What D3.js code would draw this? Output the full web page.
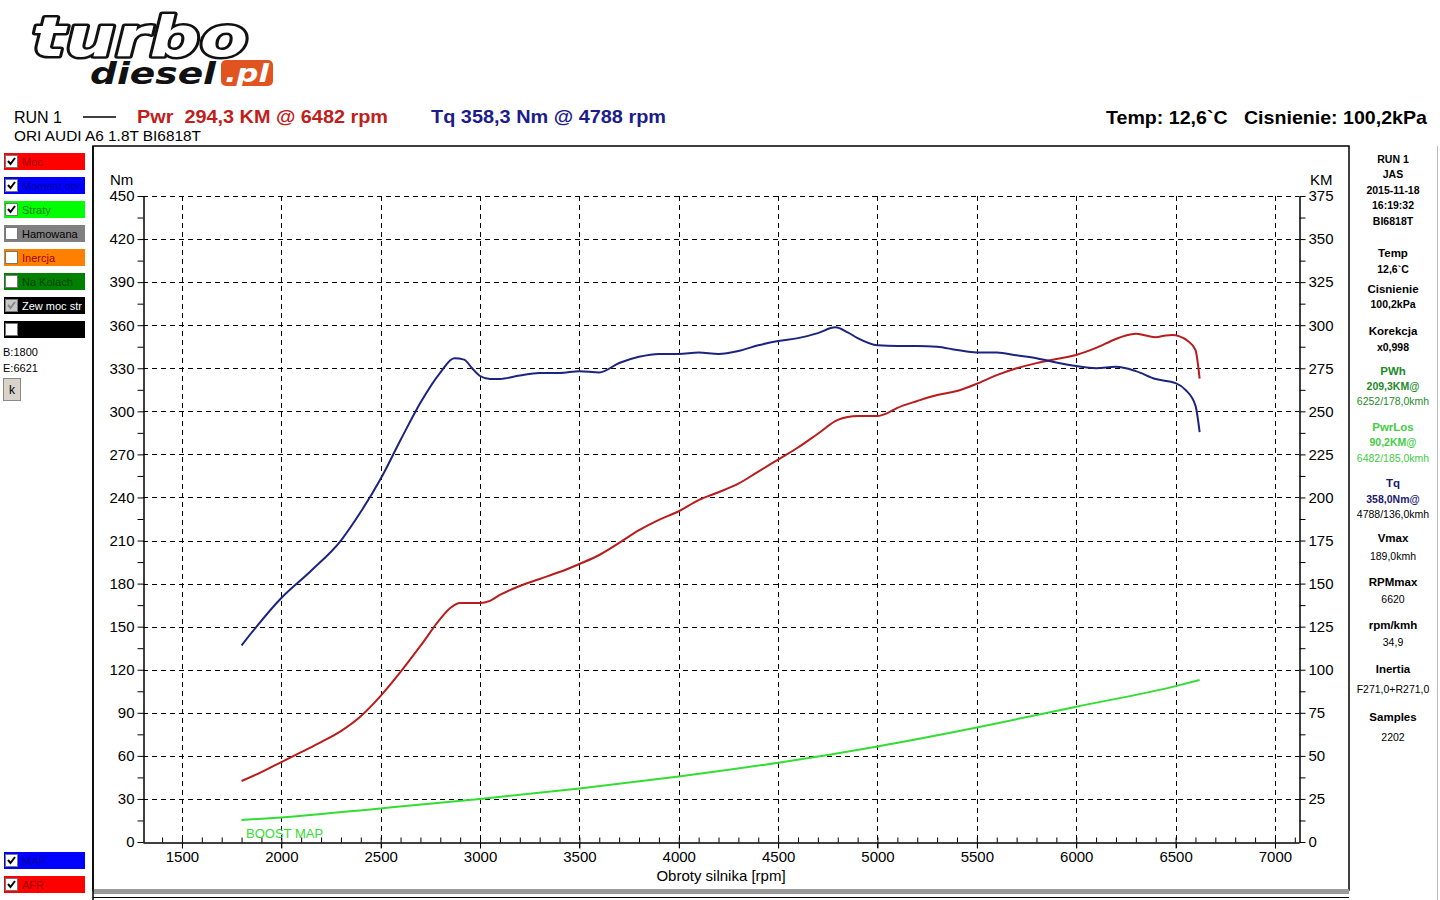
<!DOCTYPE html>
<html>
<head>
<meta charset="utf-8">
<script src="https://cdn.jsdelivr.net/npm/d3@7"></script>
<style>
  body { margin: 0; background: #fff; }
  svg { display: block; font-family: "Liberation Sans", Arial, sans-serif; }
</style>
</head>
<body>
<div id="canvas"></div>
<script>
// ---- data ----
var tqRpm = [1800,2000,2150,2300,2400,2500,2600,2700,2800,2870,2920,2960,3000,3050,3100,3200,3300,3400,3500,3600,3700,3800,3900,4000,4100,4200,4300,4400,4500,4600,4700,4788,4850,4900,5000,5100,5200,5300,5400,5500,5600,5700,5800,5900,6000,6100,6200,6300,6400,6500,6550,6600,6621]
var tqNm = [137,170,189,210,230,253,280,306,327,337,336,330,324.6,322.5,322.5,325,326.7,326.7,328,327,333.7,338,340,340,341,340,342,346,349,351,354.5,358.5,355,351,346,345.5,345.5,345,342.7,341,341,339,337,334,331.5,330,331,328,322.5,319.7,315,304,285.6]

var pwrRpm = [1800,1900,2000,2100,2200,2300,2400,2500,2600,2700,2800,2850,2900,3000,3050,3100,3200,3300,3400,3500,3600,3700,3800,3900,4000,4100,4200,4300,4400,4500,4600,4700,4800,4850,4900,5000,5050,5100,5200,5300,5400,5500,5600,5700,5800,5900,6000,6100,6200,6250,6300,6350,6400,6450,6482,6520,6560,6600,6621]
var pwrKm = [35.4,40.6,46.4,52.2,58,64.4,73,84.8,98.7,113.8,129.5,135.8,138.7,138.7,140,143.4,148.6,152.7,156.7,161.4,166.6,173.6,181,187,192,198.5,203,208,215,222,229,237,245,246.7,247.3,247.3,249,252,256,259.5,261.8,266,271,275,278,280.4,282.7,286.8,292,294,295,294,293,294,294.3,293.5,291,285.6,269]

var lossRpm = [1800,2000,2500,3000,3500,4000,4500,5000,5500,6000,6500,6621]
var lossKm = [12.8,14.2,19.5,25,31,38,46,55.5,66.5,78.5,90.5,94]

var rpmTicks = [1500,2000,2500,3000,3500,4000,4500,5000,5500,6000,6500,7000]
var rpmMinor = d3.range(1400, 7101, 100)
var nmTicks = d3.range(0, 451, 30)
var nmMinor = d3.range(15, 451, 30)
var kmTicks = d3.range(0, 376, 25)
var kmMinor = d3.range(12.5, 376, 25)

var leftItems = ["Moc", "Moment obr.", "Straty", "Hamowana", "Inercja", "Na Kolach", "Zew moc str", ""]
var leftChecked = [true, true, true, false, false, false, true, false]
var leftBg = ["#ff0000", "#0000ff", "#00ff00", "#808080", "#ff8000", "#008000", "#000000", "#000000"]
var leftFg = ["#a00000", "#0000a0", "#008000", "#000000", "#a00000", "#004000", "#ffffff", "#ffffff"]
var bottomItems = ["MAP", "AFR"]
var bottomBg = ["#0000ff", "#ff0000"]
var bottomFg = ["#0000a0", "#a00000"]

var sideLines = [
	["RUN 1", "b", "#000"], ["JAS", "b", "#000"], ["2015-11-18", "b", "#000"], ["16:19:32", "b", "#000"], ["BI6818T", "b", "#000"],
	["Temp", "B", "#000"], ["12,6`C", "b", "#000"], ["Cisnienie", "B", "#000"], ["100,2kPa", "b", "#000"],
	["Korekcja", "B", "#000"], ["x0,998", "b", "#000"],
	["PWh", "B", "#1f8a2a"], ["209,3KM@", "b", "#1f8a2a"], ["6252/178,0kmh", "n", "#1f8a2a"],
	["PwrLos", "B", "#44cc44"], ["90,2KM@", "b", "#44cc44"], ["6482/185,0kmh", "n", "#44cc44"],
	["Tq", "B", "#1a1a70"], ["358,0Nm@", "b", "#1a1a70"], ["4788/136,0kmh", "n", "#000"],
	["Vmax", "B", "#000"], ["189,0kmh", "n", "#000"],
	["RPMmax", "B", "#000"], ["6620", "n", "#000"],
	["rpm/kmh", "B", "#000"], ["34,9", "n", "#000"],
	["Inertia", "B", "#000"], ["F271,0+R271,0", "n", "#000"],
	["Samples", "B", "#000"], ["2202", "n", "#000"]
]
var sideY = [159,174,190,205,221,253,269,289,304,331,347,371,386,401,427,442,458,483,499,514,538,556,582,599,625,642,669,689,717,737]

// ---- drawing ----
var svg = d3.select('#canvas').append("svg")
	.attr("width", 1440)
	.attr("height", 900)

var x = d3.scaleLinear().domain([1304, 7121]).range([143, 1299])
var yL = d3.scaleLinear().domain([0, 450]).range([842, 196])
var yR = d3.scaleLinear().domain([0, 375]).range([842, 196])

// logo
var logo = svg.append("g")
logo.append("text").text("turbo")
	.attr("x", 32).attr("y", 56)
	.attr("font-family", "DejaVu Sans").attr("font-weight", "bold").attr("font-style", "italic")
	.attr("font-size", 56).attr("textLength", 216).attr("lengthAdjust", "spacingAndGlyphs")
	.attr("fill", "#fff").attr("stroke", "#111").attr("stroke-width", 5)
	.attr("paint-order", "stroke").attr("stroke-linejoin", "round")
logo.append("text").text("diesel")
	.attr("x", 90).attr("y", 84)
	.attr("font-family", "DejaVu Sans").attr("font-weight", "bold").attr("font-style", "italic")
	.attr("font-size", 30).attr("textLength", 126).attr("lengthAdjust", "spacingAndGlyphs")
	.attr("fill", "#111")
logo.append("rect").attr("x", 221).attr("y", 60).attr("width", 52).attr("height", 26).attr("rx", 5)
	.attr("fill", "#e2541f")
logo.append("text").text(".pl")
	.attr("x", 225).attr("y", 82)
	.attr("font-family", "DejaVu Sans").attr("font-weight", "bold").attr("font-style", "italic")
	.attr("font-size", 24).attr("textLength", 44).attr("lengthAdjust", "spacingAndGlyphs")
	.attr("fill", "#fff")

// header
svg.append("text").text("RUN 1").attr("x", 14).attr("y", 123).attr("font-size", 16)
svg.append("line").attr("x1", 83).attr("x2", 116).attr("y1", 117).attr("y2", 117).attr("stroke", "#000").attr("stroke-width", 1.5)
svg.append("text").text("Pwr  294,3 KM @ 6482 rpm").attr("x", 137).attr("y", 123)
	.attr("font-size", 19).attr("font-weight", "bold").attr("fill", "#c0201c")
	.attr("textLength", 251).attr("lengthAdjust", "spacingAndGlyphs").style("white-space", "pre")
svg.append("text").text("Tq 358,3 Nm @ 4788 rpm").attr("x", 431).attr("y", 123)
	.attr("font-size", 19).attr("font-weight", "bold").attr("fill", "#1c1c8c")
	.attr("textLength", 235).attr("lengthAdjust", "spacingAndGlyphs")
svg.append("text").text("Temp: 12,6`C   Cisnienie: 100,2kPa").attr("x", 1106).attr("y", 124)
	.attr("font-size", 19).attr("font-weight", "bold").attr("fill", "#000").style("white-space", "pre")
	.attr("textLength", 321).attr("lengthAdjust", "spacingAndGlyphs")
svg.append("text").text("ORI AUDI A6 1.8T BI6818T").attr("x", 14).attr("y", 141)
	.attr("font-size", 14.5).attr("textLength", 187).attr("lengthAdjust", "spacingAndGlyphs")

// plot frame
svg.append("rect").attr("x", 93).attr("y", 146).attr("width", 1256).attr("height", 744)
	.attr("fill", "none").attr("stroke", "#000").attr("stroke-width", 1.5)
svg.append("rect").attr("x", 93).attr("y", 889).attr("width", 1256).attr("height", 5).attr("fill", "#9a9a9a")
svg.append("line").attr("x1", 93).attr("x2", 1349).attr("y1", 897.5).attr("y2", 897.5).attr("stroke", "#000")
svg.append("line").attr("x1", 93).attr("x2", 93).attr("y1", 146).attr("y2", 900).attr("stroke", "#000").attr("stroke-width", 1.5)
svg.append("line").attr("x1", 1437.5).attr("x2", 1437.5).attr("y1", 146).attr("y2", 900).attr("stroke", "#bbb")

// grid
var grid = svg.append("g").attr("stroke", "#000").attr("stroke-dasharray", "5,4").attr("stroke-width", 1)
grid.selectAll(".vg").data(rpmTicks).enter().append("line")
	.attr("x1", function (d) { return Math.round(x(d)) + 0.5 }).attr("x2", function (d) { return Math.round(x(d)) + 0.5 })
	.attr("y1", yL(450)).attr("y2", 848)
grid.selectAll(".hg").data(nmTicks.slice(1)).enter().append("line")
	.attr("x1", 143).attr("x2", 1299)
	.attr("y1", function (d) { return Math.round(yL(d)) + 0.5 }).attr("y2", function (d) { return Math.round(yL(d)) + 0.5 })

// axes
function styleAxis(g) {
	g.attr("font-family", "Liberation Sans, Arial, sans-serif").attr("font-size", 15)
	g.selectAll("text").attr("fill", "#000")
	g.selectAll("line").attr("stroke", "#000")
	g.select(".domain").attr("stroke", "#000")
}
var fmt = d3.format("d")
svg.append("g").attr("transform", "translate(143.5,0)")
	.call(d3.axisLeft(yL).tickValues(nmTicks).tickFormat(fmt).tickSize(6).tickSizeOuter(0).tickPadding(3))
	.call(styleAxis)
svg.append("g").attr("transform", "translate(143.5,0)")
	.call(d3.axisLeft(yL).tickValues(nmMinor).tickSize(6).tickSizeOuter(0).tickFormat(""))
	.call(styleAxis)
svg.append("g").attr("transform", "translate(1299.5,0)")
	.call(d3.axisRight(yR).tickValues(kmTicks).tickFormat(fmt).tickSize(6).tickSizeOuter(0).tickPadding(3))
	.call(styleAxis)
svg.append("g").attr("transform", "translate(1299.5,0)")
	.call(d3.axisRight(yR).tickValues(kmMinor).tickSize(6).tickSizeOuter(0).tickFormat(""))
	.call(styleAxis)
svg.append("g").attr("transform", "translate(0,842.5)")
	.call(d3.axisBottom(x).tickValues(rpmTicks).tickFormat(fmt).tickSize(6).tickSizeOuter(0).tickPadding(3))
	.call(styleAxis)
svg.append("g").attr("transform", "translate(0,842.5)")
	.call(d3.axisTop(x).tickValues(rpmMinor).tickSize(5).tickSizeOuter(0).tickFormat(""))
	.call(styleAxis)

svg.append("text").text("Nm").attr("x", 110).attr("y", 185).attr("font-size", 15)
svg.append("text").text("KM").attr("x", 1310).attr("y", 185).attr("font-size", 15)
svg.append("text").text("Obroty silnika [rpm]").attr("x", 721).attr("y", 881)
	.attr("text-anchor", "middle").attr("font-size", 15)

// curves
var lineL = d3.line().x(function (d) { return x(d[0]) }).y(function (d) { return yL(d[1]) }).curve(d3.curveMonotoneX)
var lineR = d3.line().x(function (d) { return x(d[0]) }).y(function (d) { return yR(d[1]) }).curve(d3.curveMonotoneX)

svg.append("path").datum(d3.zip(lossRpm, lossKm)).attr("d", lineR)
	.attr("fill", "none").attr("stroke", "#33dd33").attr("stroke-width", 2)
svg.append("path").datum(d3.zip(pwrRpm, pwrKm)).attr("d", lineR)
	.attr("fill", "none").attr("stroke", "#b81c1c").attr("stroke-width", 2)
svg.append("path").datum(d3.zip(tqRpm, tqNm)).attr("d", lineL)
	.attr("fill", "none").attr("stroke", "#1c2480").attr("stroke-width", 2)

svg.append("text").text("BOOST MAP").attr("x", 246).attr("y", 838).attr("font-size", 13).attr("fill", "#33dd33")

// left panel
function checkBox(g, checked, grey) {
	g.append("rect").attr("x", 5.5).attr("y", 2.5).attr("width", 12).attr("height", 12)
		.attr("fill", grey ? "#c8c8c8" : "#fff").attr("stroke", "#777")
	if (checked) {
		g.append("path").attr("d", "M8,8 L10.5,11 L15,5").attr("fill", "none")
			.attr("stroke", grey ? "#888" : "#000").attr("stroke-width", 2)
	}
}
var legend = svg.append("g")
leftItems.forEach(function (name, i) {
	var g = legend.append("g").attr("transform", "translate(0," + (153 + i * 24) + ")")
	g.append("rect").attr("x", 4).attr("y", 0).attr("width", 81).attr("height", 17).attr("fill", leftBg[i])
	checkBox(g, leftChecked[i], i == 6)
	g.append("text").text(name).attr("x", 22).attr("y", 13).attr("font-size", 11).attr("fill", leftFg[i])
})
bottomItems.forEach(function (name, i) {
	var g = legend.append("g").attr("transform", "translate(0," + (852 + i * 24) + ")")
	g.append("rect").attr("x", 4).attr("y", 0).attr("width", 81).attr("height", 17).attr("fill", bottomBg[i])
	checkBox(g, true, false)
	g.append("text").text(name).attr("x", 22).attr("y", 13).attr("font-size", 11).attr("fill", bottomFg[i])
})
svg.append("text").text("B:1800").attr("x", 3).attr("y", 356).attr("font-size", 11)
svg.append("text").text("E:6621").attr("x", 3).attr("y", 372).attr("font-size", 11)
svg.append("rect").attr("x", 3.5).attr("y", 378.5).attr("width", 17).attr("height", 22)
	.attr("fill", "#d8d4cc").attr("stroke", "#888")
svg.append("text").text("k").attr("x", 12).attr("y", 394).attr("text-anchor", "middle").attr("font-size", 12)

// right info panel
svg.append("g").selectAll("text").data(sideLines).enter().append("text")
	.text(function (d) { return d[0] })
	.attr("x", 1393)
	.attr("y", function (d, i) { return sideY[i] + 4 })
	.attr("text-anchor", "middle")
	.attr("font-size", function (d) { return d[1] == "B" ? 11.5 : 10.5 })
	.attr("font-weight", function (d) { return d[1] == "n" ? "normal" : "bold" })
	.attr("fill", function (d) { return d[2] })
</script>
</body>
</html>
